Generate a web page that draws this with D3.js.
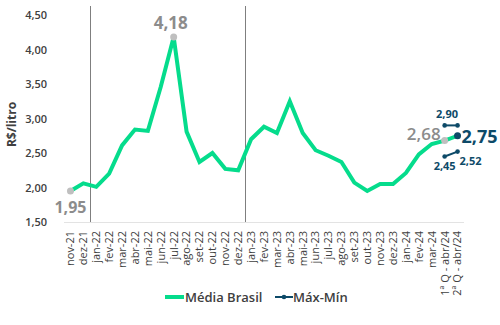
<!DOCTYPE html>
<html>
<head>
<meta charset="utf-8">
<script src="https://cdn.jsdelivr.net/npm/d3@7"></script>
<style>
  html, body { margin: 0; padding: 0; background: #fff; }
  svg { display: block; font-family: "Open Sans", sans-serif; }
</style>
</head>
<body>
<svg id="chart" width="500" height="325"></svg>
<script>
// Monthly average price (R$/litro) and the fortnight range for April 2024
const categories = [
  "nov-21", "dez-21",
  "jan-22", "fev-22", "mar-22", "abr-22", "mai-22", "jun-22", "jul-22", "ago-22", "set-22", "out-22", "nov-22", "dez-22",
  "jan-23", "fev-23", "mar-23", "abr-23", "mai-23", "jun-23", "jul-23", "ago-23", "set-23", "out-23", "nov-23", "dez-23",
  "jan-24", "fev-24", "mar-24",
  "1ª Q - abr/24", "2ª Q - abr/24"
];
const mediaBrasil = [
  1.95, 2.06,
  2.01, 2.20, 2.61, 2.84, 2.82, 3.46, 4.18, 2.81, 2.37, 2.50, 2.27, 2.25,
  2.70, 2.88, 2.79, 3.25, 2.79, 2.54, 2.46, 2.37, 2.07, 1.95, 2.05, 2.05,
  2.21, 2.48, 2.63,
  2.68, 2.75
];
const maxCategories = ["1ª Q - abr/24", "2ª Q - abr/24"];
const maxValues = [2.90, 2.90];
const minValues = [2.45, 2.52];
const yTicks = [1.5, 2.0, 2.5, 3.0, 3.5, 4.0, 4.5];
const yearBreaks = ["jan-22", "jan-23"];

const GREEN = "#05dc8c";
const TEAL = "#0d4a68";
const GREY_DOT = "#bfbfbf";
const GREY_TXT = "#8c8c8c";
const DARK = "#404040";

const svg = d3.select("#chart");
const plot = { left: 64, right: 464, top: 15, bottom: 222 };

const x = d3.scaleBand().domain(categories).range([plot.left, plot.right]).padding(0);
const xc = c => x(c) + x.bandwidth() / 2;
const y = d3.scaleLinear().domain([1.5, 4.5]).range([plot.bottom, plot.top]);
const fmt = v => d3.format(".2f")(v).replace(".", ",");

// y axis (labels only)
const yAxis = d3.axisLeft(y).tickValues(yTicks).tickFormat(fmt).tickSize(0).tickPadding(0);
svg.append("g")
  .attr("transform", `translate(${plot.left - 17},0)`)
  .call(yAxis)
  .call(g => g.select(".domain").remove())
  .call(g => g.selectAll("text")
    .attr("fill", DARK).attr("font-size", 11).attr("font-weight", 600)
    .attr("font-family", "Open Sans, sans-serif"));

svg.append("text")
  .attr("transform", `translate(16,${(plot.top + plot.bottom) / 2 + 6}) rotate(-90)`)
  .attr("text-anchor", "middle")
  .attr("fill", DARK).attr("font-size", 12).attr("font-weight", 700)
  .text("R$/litro");

// x axis baseline and rotated month labels
svg.append("line")
  .attr("x1", plot.left).attr("x2", plot.right)
  .attr("y1", plot.bottom + 0.5).attr("y2", plot.bottom + 0.5)
  .attr("stroke", "#e3e3e3").attr("stroke-width", 1);

const xAxis = d3.axisBottom(x).tickSize(0).tickPadding(0);
svg.append("g")
  .attr("transform", `translate(0,${plot.bottom})`)
  .call(xAxis)
  .call(g => g.select(".domain").remove())
  .call(g => g.selectAll("text")
    .attr("fill", DARK).attr("font-size", 11).attr("font-weight", 500)
    .attr("font-family", "Open Sans, sans-serif")
    .attr("text-anchor", "end")
    .attr("dy", "0.35em")
    .attr("transform", "translate(0,9) rotate(-90)"));

// year separators
svg.selectAll("line.sep")
  .data(yearBreaks)
  .join("line")
  .attr("class", "sep")
  .attr("x1", d => Math.round(x(d)) + 0.5).attr("x2", d => Math.round(x(d)) + 0.5)
  .attr("y1", 6).attr("y2", plot.bottom)
  .attr("stroke", "#7f7f7f").attr("stroke-width", 1);

// Média Brasil line
const line = d3.line().x((d, i) => xc(categories[i])).y(d => y(d));
svg.append("path")
  .datum(mediaBrasil)
  .attr("d", line)
  .attr("fill", "none")
  .attr("stroke", GREEN).attr("stroke-width", 4)
  .attr("stroke-linejoin", "miter");

// Máx / Mín lines
const rangeLine = d3.line().x((d, i) => xc(maxCategories[i])).y(d => y(d));
[maxValues, minValues].forEach(vals => {
  svg.append("path")
    .datum(vals)
    .attr("d", rangeLine)
    .attr("fill", "none")
    .attr("stroke", TEAL).attr("stroke-width", 2);
  svg.selectAll(null)
    .data(vals)
    .join("circle")
    .attr("cx", (d, i) => xc(maxCategories[i]))
    .attr("cy", d => y(d))
    .attr("r", 2.3)
    .attr("fill", TEAL);
});

// highlighted points
const iMin = 0, iMax = categories.indexOf("jul-22");
const iQ1 = categories.indexOf("1ª Q - abr/24"), iQ2 = categories.indexOf("2ª Q - abr/24");
[iMin, iMax, iQ1].forEach(i => {
  svg.append("circle")
    .attr("cx", xc(categories[i])).attr("cy", y(mediaBrasil[i]))
    .attr("r", 3.5).attr("fill", GREY_DOT);
});
svg.append("circle")
  .attr("cx", xc(categories[iQ2])).attr("cy", y(mediaBrasil[iQ2]))
  .attr("r", 3.5).attr("fill", TEAL);

// value labels
const label = (txt, xPos, yPos, anchor, size, weight, color) =>
  svg.append("text")
    .attr("x", xPos).attr("y", yPos)
    .attr("text-anchor", anchor)
    .attr("font-size", size).attr("font-weight", weight)
    .attr("fill", color).text(txt);

label(fmt(mediaBrasil[iMax]), xc(categories[iMax]) - 3, y(mediaBrasil[iMax]) - 8, "middle", 17, 700, GREY_TXT);
label(fmt(mediaBrasil[iMin]), xc(categories[iMin]), y(mediaBrasil[iMin]) + 22, "middle", 16, 700, GREY_TXT);
label(fmt(mediaBrasil[iQ1]), xc(categories[iQ1]) - 4, y(mediaBrasil[iQ1]) - 0.5, "end", 17, 600, GREY_TXT);
label(fmt(mediaBrasil[iQ2]), xc(categories[iQ2]) + 4, y(mediaBrasil[iQ2]) + 7.5, "start", 18, 700, TEAL);
label(fmt(maxValues[0]), (xc(maxCategories[0]) + xc(maxCategories[1])) / 2 - 4, y(maxValues[0]) - 7, "middle", 11, 700, TEAL);
label(fmt(minValues[0]), xc(maxCategories[0]), y(minValues[0]) + 14, "middle", 11, 700, TEAL);
label(fmt(minValues[1]), xc(maxCategories[1]) + 2, y(minValues[1]) + 13, "start", 11, 700, TEAL);

// legend
const lg = svg.append("g").attr("transform", "translate(0,297)");
lg.append("line").attr("x1", 165).attr("x2", 184).attr("y1", 0).attr("y2", 0)
  .attr("stroke", GREEN).attr("stroke-width", 4);
lg.append("text").attr("x", 185).attr("y", 4.5)
  .attr("font-size", 13).attr("font-weight", 600).attr("fill", DARK).text("Média Brasil");
lg.append("line").attr("x1", 275).attr("x2", 293).attr("y1", 0).attr("y2", 0)
  .attr("stroke", TEAL).attr("stroke-width", 2);
lg.append("circle").attr("cx", 284).attr("cy", 0).attr("r", 2.3).attr("fill", TEAL);
lg.append("text").attr("x", 293).attr("y", 4.5)
  .attr("font-size", 13).attr("font-weight", 600).attr("fill", DARK).text("Máx-Mín");
</script>
</body>
</html>
